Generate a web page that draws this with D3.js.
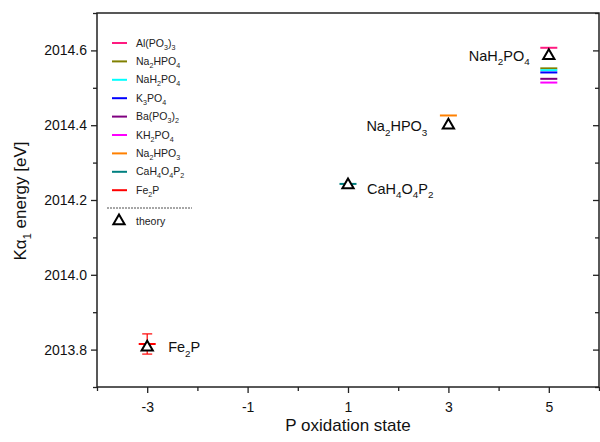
<!DOCTYPE html>
<meta charset='utf-8'>
<style>
  body { margin: 0; background: #fff; }
  svg { font-family: Arial, 'Liberation Sans', Helvetica, sans-serif; }
  .tick text { fill: #111; }
</style>
<body>
<div id='viz'></div>
<script src='https://d3js.org/d3.v7.min.js'></script>
<script>

// measured compounds (all digits in formulas are subscripts)
var compounds  = ['Al(PO3)3', 'Na2HPO4', 'NaH2PO4', 'K3PO4', 'Ba(PO3)2', 'KH2PO4', 'Na2HPO3', 'CaH4O4P2', 'Fe2P'];
var colors     = ['#ff1a80', '#808000', '#00ffff', '#0000ff', '#800080', '#ff00ff', '#ff8000', '#008080', '#ff0000'];
var oxidation  = [5, 5, 5, 5, 5, 5, 3, 1, -3];
var energy     = [2014.607, 2014.552, 2014.547, 2014.541, 2014.524, 2014.514, 2014.426, 2014.243, 2013.815];
var errors     = [0, 0, 0, 0, 0, 0, 0, 0, 0.027];

// theory values
var theoryOx     = [-3, 1, 3, 5];
var theoryEnergy = [2013.806, 2014.240, 2014.400, 2014.586];

// point labels
var labelText = ['Fe2P', 'CaH4O4P2', 'Na2HPO3', 'NaH2PO4'];
var labelOx   = [-3, 1, 3, 5];

var xMajor = [-3, -1, 1, 3, 5],
    xMinor = [-4, -2, 0, 2, 4, 6],
    yMajor = [2013.8, 2014.0, 2014.2, 2014.4, 2014.6],
    yMinor = [2013.7, 2013.9, 2014.1, 2014.3, 2014.5, 2014.7];

var W = 600, H = 442;
var x = d3.scaleLinear().domain([-4, 6]).range([97, 599]),
    y = d3.scaleLinear().domain([2013.7, 2014.7]).range([387, 13]);

var svg = d3.select('#viz').append('svg').attr('width', W).attr('height', H);

// write a formula with subscript digits
function formula(sel, str, size) {
  var parts = str.split(/(\d+)/).filter(function(p) { return p !== ''; });
  var sub = false;
  parts.forEach(function(p) {
    var isDigit = /^\d+$/.test(p);
    var t = sel.append('tspan').text(p);
    if (isDigit) {
      t.attr('font-size', size * 0.68).attr('dy', sub ? 0 : size * 0.3);
      sub = true;
    } else {
      if (sub) t.attr('dy', -size * 0.3);
      sub = false;
    }
  });
}

// axes
var xAxis = svg.append('g').attr('transform', 'translate(0,387)');
xAxis.call(d3.axisBottom(x).tickValues(xMajor).tickSize(6).tickSizeOuter(0).tickFormat(function(d) { return String(d); }));
xAxis.append('g').call(d3.axisBottom(x).tickValues(xMinor).tickSize(4).tickSizeOuter(0).tickFormat(''));
xAxis.selectAll('text').attr('font-size', 14).attr('dy', '1.15em');

var yAxis = svg.append('g').attr('transform', 'translate(97,0)');
yAxis.call(d3.axisLeft(y).tickValues(yMajor).tickSize(6).tickSizeOuter(0).tickFormat(d3.format('.1f')));
yAxis.append('g').call(d3.axisLeft(y).tickValues(yMinor).tickSize(4).tickSizeOuter(0).tickFormat(''));
yAxis.selectAll('text').attr('font-size', 14).attr('x', -10);

// mirrored ticks on the right, pointing inward
var yRight = svg.append('g').attr('transform', 'translate(599,0)');
yRight.call(d3.axisLeft(y).tickValues(yMajor).tickSize(6).tickSizeOuter(0).tickFormat(''));
yRight.append('g').call(d3.axisLeft(y).tickValues(yMinor).tickSize(4).tickSizeOuter(0).tickFormat(''));

svg.selectAll('.domain').remove();
svg.selectAll('.tick line').attr('stroke', '#222').attr('stroke-width', 1.3);

// frame
svg.append('rect')
    .attr('x', 97).attr('y', 13).attr('width', 502).attr('height', 374)
    .attr('fill', 'none').attr('stroke', '#222').attr('stroke-width', 1.5);

// axis titles
svg.append('text')
    .attr('x', 348).attr('y', 431)
    .attr('text-anchor', 'middle').attr('font-size', 17).attr('fill', '#111')
    .text('P oxidation state');

var yt = svg.append('text')
    .attr('transform', 'translate(26,201) rotate(-90)')
    .attr('text-anchor', 'middle').attr('font-size', 17).attr('fill', '#111');
yt.append('tspan').text('K\u03b1');
yt.append('tspan').text('1').attr('font-size', 11).attr('dy', 5);
yt.append('tspan').text(' energy [eV]').attr('dy', -5);

// measured marks: short horizontal lines
var marks = svg.append('g');
compounds.forEach(function(c, i) {
  var g = marks.append('g').attr('stroke', colors[i]).attr('stroke-width', 2);
  g.append('line')
      .attr('x1', x(oxidation[i]) - 8.5).attr('x2', x(oxidation[i]) + 8.5)
      .attr('y1', y(energy[i])).attr('y2', y(energy[i]));
  if (errors[i] > 0) {
    g.append('line')
        .attr('x1', x(oxidation[i])).attr('x2', x(oxidation[i]))
        .attr('y1', y(energy[i] - errors[i])).attr('y2', y(energy[i] + errors[i]))
        .attr('stroke-width', 1.2);
    [-1, 1].forEach(function(s) {
      g.append('line')
          .attr('x1', x(oxidation[i]) - 5).attr('x2', x(oxidation[i]) + 5)
          .attr('y1', y(energy[i] + s * errors[i])).attr('y2', y(energy[i] + s * errors[i]))
          .attr('stroke-width', 1.2);
    });
  }
});

// theory triangles
var tri = d3.symbol().type(d3.symbolTriangle).size(55);
svg.append('g').selectAll('path')
    .data(theoryOx)
    .enter().append('path')
    .attr('d', tri)
    .attr('transform', function(d, i) { return 'translate(' + x(d) + ',' + y(theoryEnergy[i]) + ')'; })
    .attr('fill', '#fff').attr('stroke', '#000').attr('stroke-width', 2);

// labels next to points
var labelPos = {
  '-3': {dx: 21, dy: 5},
  '1':  {dx: 19, dy: 9},
  '3':  {dx: -82, dy: 6},
  '5':  {dx: -80, dy: 5}
};
labelText.forEach(function(t, i) {
  var p = labelPos[String(labelOx[i])];
  var ti = theoryOx.indexOf(labelOx[i]);
  var txt = svg.append('text')
      .attr('x', x(labelOx[i]) + p.dx).attr('y', y(theoryEnergy[ti]) + p.dy)
      .attr('font-size', 14.5).attr('fill', '#111');
  formula(txt, t, 14.5);
});

// legend
var leg = svg.append('g');
compounds.forEach(function(c, i) {
  var ly = 43 + i * 18.4;
  leg.append('line')
      .attr('x1', 112).attr('x2', 127).attr('y1', ly).attr('y2', ly)
      .attr('stroke', colors[i]).attr('stroke-width', 2);
  var t = leg.append('text')
      .attr('x', 136).attr('y', ly + 3.5)
      .attr('font-size', 10.5).attr('fill', '#222');
  formula(t, c, 10.5);
});
leg.append('line')
    .attr('x1', 107).attr('x2', 192).attr('y1', 208).attr('y2', 208)
    .attr('stroke', '#222').attr('stroke-width', 0.8).attr('stroke-dasharray', '2,1');
leg.append('path')
    .attr('d', tri)
    .attr('transform', 'translate(119,221)')
    .attr('fill', 'none').attr('stroke', '#000').attr('stroke-width', 2);
leg.append('text')
    .attr('x', 136).attr('y', 225)
    .attr('font-size', 10.5).attr('fill', '#222')
    .text('theory');

</script>
</body>
